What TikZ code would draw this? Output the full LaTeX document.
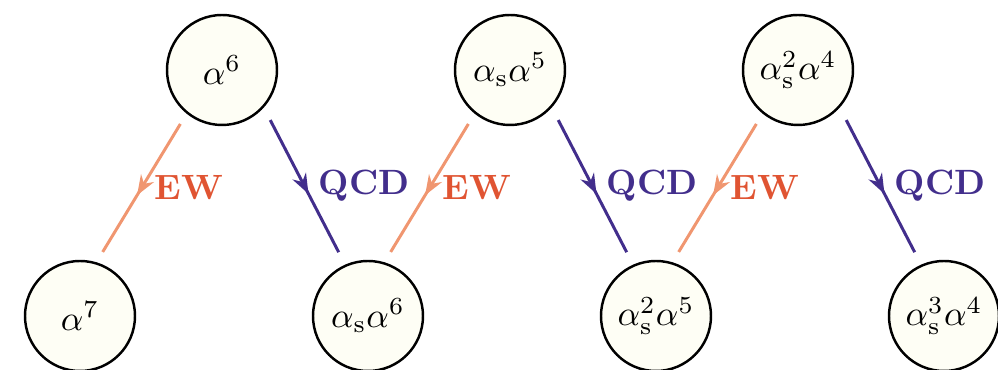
\documentclass[tikz,border=0pt]{standalone}
\usepackage{amsmath}
\definecolor{ewline}{RGB}{240,150,112}
\definecolor{ewtext}{RGB}{224,84,50}
\definecolor{qcdpurple}{RGB}{66,46,140}
\definecolor{ordfill}{RGB}{254,254,245}
\usetikzlibrary{arrows.meta,decorations.markings}

\begin{document}
\begin{tikzpicture}[
  ord/.style={draw,circle,line width=0.7pt,fill=ordfill,minimum size=1.1cm,inner sep=0pt},
  midarr/.style={postaction={decorate},decoration={markings,
    mark=at position 0.55 with {\arrow{Stealth[length=2mm,width=1.5mm]}}}},
  ew/.style={midarr,ewline,line width=0.85pt,shorten <=1.2mm,shorten >=1.2mm},
  qcd/.style={midarr,qcdpurple,line width=0.85pt,shorten <=1.4mm,shorten >=1.4mm},
  lab/.style={font=\bfseries,right}
]
  \useasboundingbox (0,0) rectangle (9.98,3.70);

  % orders in the upper row
  \node[ord] (top1) at (2.22,3.00) {$\alpha^6$};
  \node[ord] (top2) at (5.10,3.00) {$\alpha_{\mathrm{s}}\alpha^5$};
  \node[ord] (top3) at (7.98,3.00) {$\alpha_{\mathrm{s}}^2\alpha^4$};

  % orders in the lower row
  \node[ord] (bot1) at (0.80,0.54) {$\alpha^7$};
  \node[ord] (bot2) at (3.68,0.54) {$\alpha_{\mathrm{s}}\alpha^6$};
  \node[ord] (bot3) at (6.56,0.54) {$\alpha_{\mathrm{s}}^2\alpha^5$};
  \node[ord] (bot4) at (9.44,0.54) {$\alpha_{\mathrm{s}}^3\alpha^4$};

  % EW corrections
  \draw[ew] (top1.231) -- (bot1.73) node[lab,ewtext,midway] {EW};
  \draw[ew] (top2.231) -- (bot2.73) node[lab,ewtext,midway] {EW};
  \draw[ew] (top3.231) -- (bot3.73) node[lab,ewtext,midway] {EW};

  % QCD corrections
  \draw[qcd] (top1.318) -- (bot2.114) node[lab,qcdpurple,midway,xshift=0.1mm] {QCD};
  \draw[qcd] (top2.318) -- (bot3.114) node[lab,qcdpurple,midway,xshift=0.1mm] {QCD};
  \draw[qcd] (top3.318) -- (bot4.114) node[lab,qcdpurple,midway,xshift=0.1mm] {QCD};
\end{tikzpicture}
\end{document}
